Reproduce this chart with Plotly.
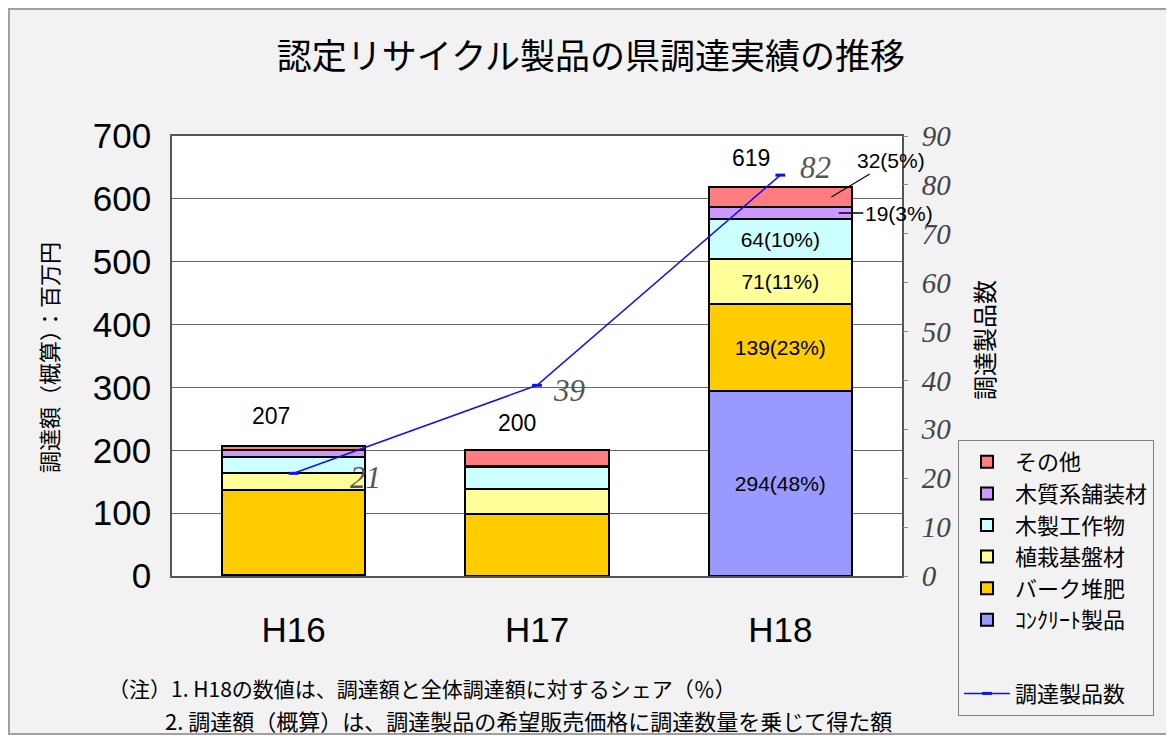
import plotly.graph_objects as go

# ---- data ----
years = ["H16", "H17", "H18"]
concrete = [1, 0, 294]       # コンクリート製品
bark = [136, 99, 139]        # バーク堆肥
planting = [27, 39, 71]      # 植栽基盤材
woodwork = [25, 36, 64]      # 木製工作物
paving = [11, 1, 19]         # 木質系舗装材
other = [7, 25, 32]          # その他
totals = [207, 200, 619]
h18_share = {"concrete": 48, "bark": 23, "planting": 11, "woodwork": 10, "paving": 3, "other": 5}
product_count = [21, 39, 82]  # 調達製品数

names = {
    "concrete": "ｺﾝｸﾘｰﾄ製品",
    "bark": "バーク堆肥",
    "planting": "植栽基盤材",
    "woodwork": "木製工作物",
    "paving": "木質系舗装材",
    "other": "その他",
}
colors = {
    "concrete": "#9999FF",
    "bark": "#FFCC00",
    "planting": "#FFFF99",
    "woodwork": "#CCFFFF",
    "paving": "#CC99FF",
    "other": "#FF7C80",
}
series = [("concrete", concrete), ("bark", bark), ("planting", planting),
          ("woodwork", woodwork), ("paving", paving), ("other", other)]
inside_label = {"concrete", "bark", "planting", "woodwork"}

JP = "Noto Sans CJK JP"

# plot area in page pixels (reference coordinates)
PX0, PX1, PY0, PY1 = 172, 902, 136, 576
def px(X):
    return (X - PX0) / (PX1 - PX0)
def py(Y):
    return (PY1 - Y) / (PY1 - PY0)

fig = go.Figure()

for key, vals in series:
    if key in inside_label:
        txt = ["", "", f"{vals[2]}({h18_share[key]}%)"]
    else:
        txt = ["", "", ""]
    fig.add_trace(go.Bar(
        x=years, y=vals, name=names[key], legendgroup="bars",
        marker=dict(color=colors[key], line=dict(color="black", width=2)),
        text=txt, textposition="inside", insidetextanchor="middle",
        textfont=dict(family="Arial", size=21, color="black"),
        width=0.59,
    ))

fig.add_trace(go.Scatter(
    x=years, y=product_count, yaxis="y2", name="調達製品数",
    mode="lines+markers", legendgroup="line",
    line=dict(color="#1010F0", width=1.5),
    marker=dict(symbol="line-ew", size=7, line=dict(width=3, color="#1010F0")),
    cliponaxis=False,
))

annotations = []
# totals
tot_shift = [(-23, 30), (-20, 27), (-29, 29)]
for i, t in enumerate(totals):
    annotations.append(dict(x=years[i], y=t, text=str(t), showarrow=False,
                            xshift=tot_shift[i][0], yshift=tot_shift[i][1],
                            font=dict(family="Arial", size=23, color="black")))

# outside labels for H18 small segments
top_paving = concrete[2] + bark[2] + planting[2] + woodwork[2] + paving[2]
annotations.append(dict(x=2.21, y=top_paving + other[2] / 2,
                        text=f"{other[2]}({h18_share['other']}%)", showarrow=True, arrowhead=0,
                        arrowwidth=1.2, arrowcolor="black", ax=60, ay=-36,
                        font=dict(family="Arial", size=21, color="black")))
annotations.append(dict(x=2.24, y=top_paving - paving[2] / 2,
                        text=f"{paving[2]}({h18_share['paving']}%)", showarrow=True, arrowhead=0,
                        arrowwidth=1.5, arrowcolor="black", ax=60, ay=0,
                        font=dict(family="Arial", size=21, color="black")))

# line value labels
lbl_shift = [(72, -4), (32, -5), (35, 8)]
for i, v in enumerate(product_count):
    annotations.append(dict(x=years[i], y=v, yref="y2", text=str(v), showarrow=False,
                            xshift=lbl_shift[i][0], yshift=lbl_shift[i][1],
                            font=dict(family="Liberation Serif", size=31, color="#555555", style="italic")))

# axis titles
annotations.append(dict(xref="paper", yref="paper", x=px(48), y=py(358), xanchor="center", yanchor="middle",
                        text="調達額（概算）：百万円", textangle=-90, showarrow=False,
                        font=dict(family=JP, size=22, color="black")))
annotations.append(dict(xref="paper", yref="paper", x=px(983), y=py(340), xanchor="center", yanchor="middle",
                        text="調達製品数", textangle=-90, showarrow=False,
                        font=dict(family=JP, size=24, color="black")))
# notes
annotations.append(dict(xref="paper", yref="paper", x=px(106), y=py(688), xanchor="left", yanchor="middle",
                        text="（注）1. H18の数値は、調達額と全体調達額に対するシェア（％）",
                        showarrow=False, font=dict(family=JP, size=21, color="black")))
annotations.append(dict(xref="paper", yref="paper", x=px(163), y=py(720), xanchor="left", yanchor="middle",
                        text="2. 調達額（概算）は、調達製品の希望販売価格に調達数量を乗じて得た額",
                        showarrow=False, font=dict(family=JP, size=22, color="black")))

shapes = [
    dict(type="rect", xref="paper", yref="paper",
         x0=px(9), x1=px(1169), y0=py(734), y1=py(9),
         line=dict(color="#A0A0A0", width=2), fillcolor="#F2F2F2", layer="below"),
    dict(type="rect", xref="paper", yref="paper", x0=0, x1=1, y0=0, y1=1,
         line=dict(width=0), fillcolor="white", layer="below"),
]

# page has 8px body margin: figure coordinates = reference - 8
W, H = 1162, 728
fig.update_layout(
    width=W, height=H,
    margin=dict(l=PX0 - 8, r=W - (PX1 - 8), t=PY0 - 8, b=H - (PY1 - 8)),
    paper_bgcolor="white", plot_bgcolor="white",
    barmode="stack", bargap=0.41,
    title=dict(text="認定リサイクル製品の県調達実績の推移", x=(591 - 8) / W, xanchor="center",
               y=1 - (57 - 8) / H, yanchor="middle", font=dict(family=JP, size=35, color="black")),
    xaxis=dict(type="category", range=[-0.5, 2.5], showline=True, linecolor="#555555", linewidth=1.5,
               mirror=True, ticks="", tickfont=dict(family="Arial", size=35, color="black"),
               ticklabelstandoff=22),
    yaxis=dict(range=[0, 700], dtick=100, showgrid=True, gridcolor="#666666", gridwidth=1,
               showline=True, linecolor="#555555", linewidth=1.5, mirror=True, ticks="",
               tickfont=dict(family="Arial", size=35, color="black"), ticklabelstandoff=12,
               zeroline=False),
    yaxis2=dict(range=[0, 90], dtick=10, overlaying="y", side="right", showgrid=False,
                ticks="outside", ticklen=5, tickcolor="#888888",
                tickfont=dict(family="Liberation Serif", size=29, color="#444444", style="italic"),
                ticklabelstandoff=8, zeroline=False),
    legend=dict(x=px(958), xanchor="left", y=py(440), yanchor="top",
                traceorder="reversed+grouped", tracegroupgap=42,
                bgcolor="#F2F2F2", bordercolor="#808080", borderwidth=1,
                font=dict(family=JP, size=22, color="black"), itemwidth=46),
    annotations=annotations, shapes=shapes,
    showlegend=True,
)

fig.write_html("out.html")
